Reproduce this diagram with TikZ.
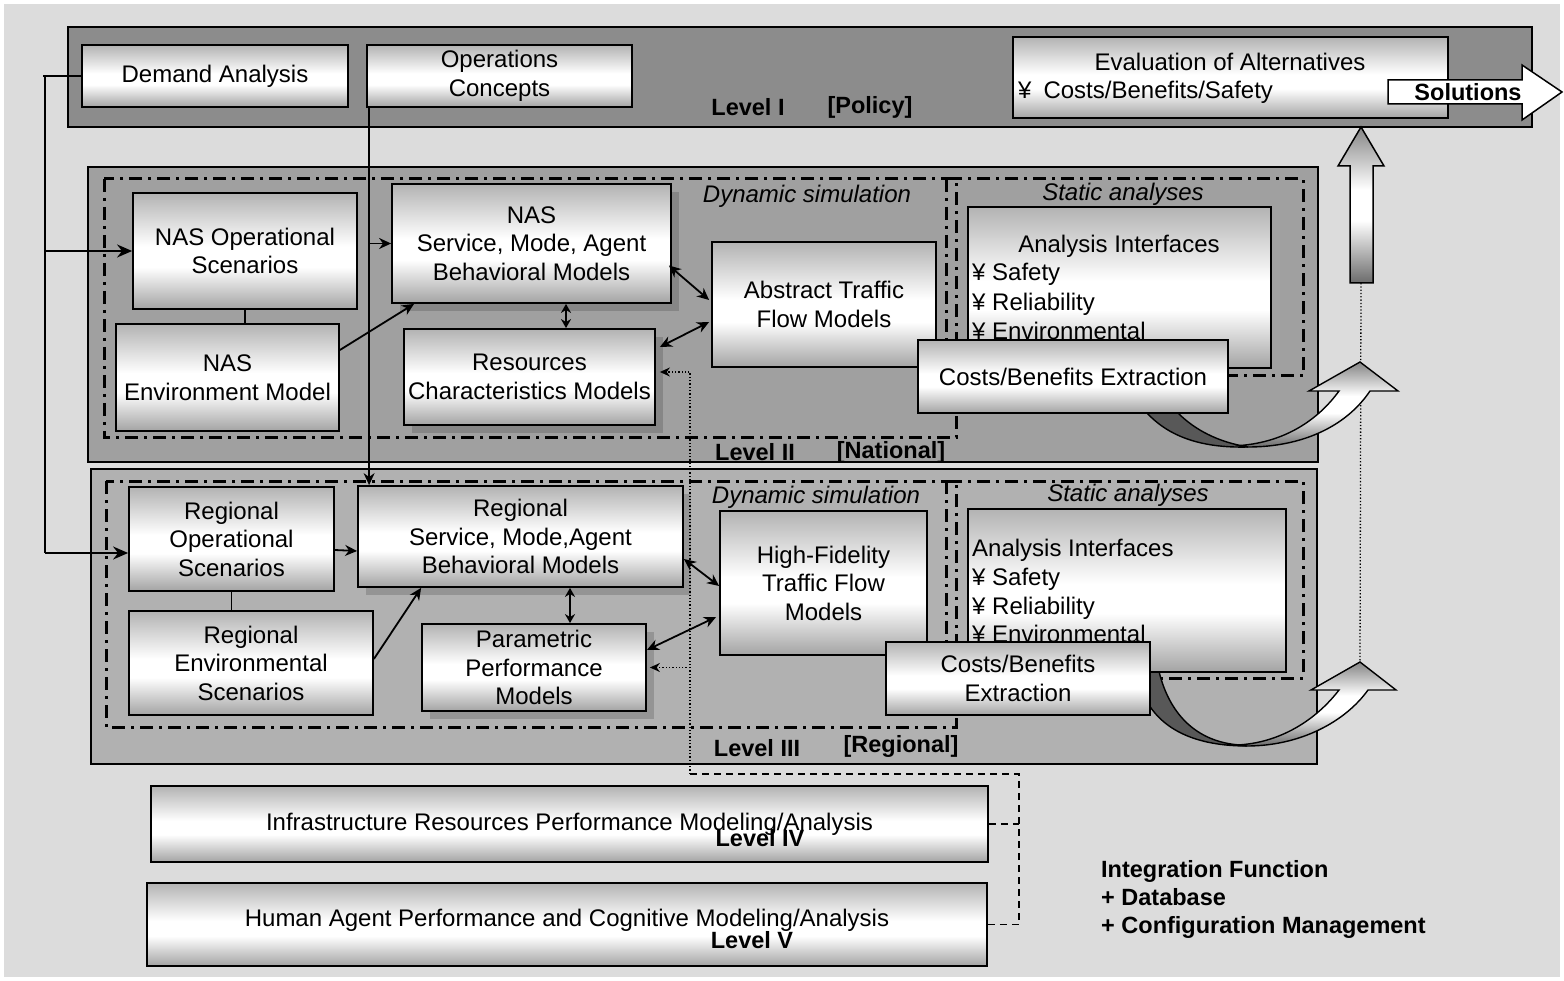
\documentclass[tikz,border=0pt]{standalone}
\usepackage{fontspec}
\setmainfont{Liberation Sans}
\usetikzlibrary{arrows.meta,calc,shadows}

\definecolor{pagegray}{HTML}{DCDCDC}
\definecolor{policygray}{HTML}{8C8C8C}
\definecolor{nationalgray}{HTML}{A0A0A0}
\definecolor{regionalgray}{HTML}{B1B1B1}
\definecolor{folddark}{HTML}{585858}

% box fill: grey top, white band below the middle, grey bottom
% (0bp = bottom; the path spans 25bp..75bp)
\pgfdeclareverticalshading{boxshade}{100bp}{color(0bp)=(black!36); color(25bp)=(black!36); color(43bp)=(white); color(52bp)=(white); color(75bp)=(black!30); color(100bp)=(black!30)}
% block arrows: grey ends, white middle
\pgfdeclareverticalshading{arrowshade}{100bp}{color(0bp)=(black!58); color(25bp)=(black!58); color(45bp)=(white); color(55bp)=(white); color(75bp)=(black!48); color(100bp)=(black!48)}

\newcommand\txtfont{\fontsize{24}{28.5}\selectfont}
\newcommand\lblfont{\fontsize{23.5}{28}\selectfont\bfseries}

\begin{document}
\begin{tikzpicture}[x=1pt,y=-1pt,
  panel/.style={draw=black,line width=1.4pt},
  zone/.style={draw=black,line width=3pt,dash pattern=on 13pt off 6pt on 3pt off 6pt},
  mbox/.style={draw=black,line width=1.8pt,shade,shading=boxshade,inner sep=2pt,align=center,font=\txtfont},
  shadowed/.style={drop shadow={shadow xshift=8pt,shadow yshift=-8pt,fill=black,opacity=0.16}},
  txt/.style={inner sep=0pt,font=\txtfont},
  itxt/.style={inner sep=0pt,font=\txtfont\itshape},
  lbl/.style={inner sep=0pt,font=\lblfont},
  conn/.style={line width=1.8pt},
  tip/.style={conn,-{Stealth[length=12pt,width=11pt]}},
  bigtip/.style={conn,-{Stealth[length=15pt,width=13pt]}},
  both/.style={conn,{Stealth[length=12pt,width=11pt]}-{Stealth[length=12pt,width=11pt]}},
  shortboth/.style={conn,{Stealth[length=9pt,width=10pt]}-{Stealth[length=9pt,width=10pt]}},
  dotline/.style={line width=1.3pt,dash pattern=on 1.3pt off 2pt},
  dashline/.style={line width=1.5pt,dash pattern=on 7pt off 5pt},
  bigarrow/.style={line width=1.4pt,shade,shading=arrowshade},
]

% page
\fill[white] (0,0) rectangle (1564,981);
\useasboundingbox (0,0) rectangle (1564,981);
\fill[pagegray] (4,4) rectangle (1560,977);

% level panels
\path[panel,fill=policygray] (68,27) rectangle (1532,127);
\path[panel,fill=nationalgray] (88,167) rectangle (1318,462);
\path[panel,fill=regionalgray] (91,469) rectangle (1317,764);

% dynamic / static zones
\draw[zone] (104,179) rectangle (956,438);
\draw[zone] (946,179) rectangle (1303,376);
\draw[zone] (106,481) rectangle (956,727);
\draw[zone] (946,481) rectangle (1303,678);

\node[itxt] (dyn2) at (807,196) {Dynamic simulation};
\node[itxt] (sta2) at (1123,194) {Static analyses};
\node[itxt] (dyn3) at (816,497) {Dynamic simulation};
\node[itxt] (sta3) at (1128,495) {Static analyses};

% level captions
\node[lbl] (lvlone) at (748,107) {Level I};
\node[lbl] (lvlonetag) at (870,107) {[Policy]};
\node[lbl] (lvltwo) at (755,452) {Level II};
\node[lbl] (lvltwotag) at (891,452) {[National]};
\node[lbl] (lvlthree) at (757,748) {Level III};
\node[lbl] (lvlthreetag) at (901,746) {[Regional]};

% feedback path towards the evaluation
\coordinate (upbase) at (1361,283);
\coordinate (tipA) at (1360,362);
\coordinate (tipB) at (1360,662);
\draw[dotline] (upbase) -- (tipB);

% upward block arrow into the evaluation box
\draw[bigarrow,line width=1.5pt]
  (upbase) -- (1350,283) -- (1350,166) -- (1338,166) -- (1361,127) -- (1384,166)
  -- (1373,166) -- (1373,283) -- cycle;

% curved arrow out of the national extraction
\draw[line width=1.4pt,fill=folddark] (1147,413) .. controls (1172,440) and (1208,448) .. (1248,447)
  .. controls (1218,442) and (1195,430) .. (1178,413) -- cycle;
\draw[bigarrow] (1248,447) .. controls (1300,447) and (1345,428) .. (1370,391) -- (1398,391) -- (tipA)
  -- (1309,391) -- (1339,391) .. controls (1318,420) and (1285,442) .. (1240,445.5) -- cycle;

% curved arrow out of the regional extraction
\draw[line width=1.4pt,fill=folddark] (1146,662) -- (1157,662) .. controls (1166,712) and (1195,742) .. (1240,745)
  -- (1247,746) .. controls (1205,746) and (1165,735) .. (1146,700) -- cycle;
\draw[bigarrow] (1247,746) .. controls (1300,746) and (1345,722) .. (1368,690) -- (1396,690) -- (tipB)
  -- (1311,690) -- (1339,690) .. controls (1316,720) and (1280,743) .. (1237,745) -- cycle;

% ---- Level I ----
\node[mbox,minimum width=266,minimum height=62] (dem) at (215,76) {Demand Analysis};
\node[mbox,minimum width=265,minimum height=62] (ops) at (499.5,76) {Operations\\Concepts};
\node[mbox,minimum width=435,minimum height=81] (eval) at (1230.5,77.5) {};
\node[txt] (evalhead) at (1230,62) {Evaluation of Alternatives};
\node[txt,anchor=west] (evalitem) at (1018,92) {¥\hspace{12pt}Costs/Benefits/Safety};

\draw[line width=1.5pt,fill=white] (1388,80) -- (1522,80) -- (1522,65) -- (1562,92) -- (1522,120)
  -- (1522,104) -- (1388,104) -- cycle;
\node[lbl] (sol) at (1468,92) {Solutions};

% ---- Level II ----
\node[mbox,minimum width=224,minimum height=116] (nasop) at (245,251) {NAS Operational\\Scenarios};
\node[mbox,minimum width=223,minimum height=107] (nasenv) at (227.5,377.5) {NAS\\Environment Model};
\node[mbox,shadowed,minimum width=279,minimum height=119] (nassvc) at (531.5,243.5) {NAS\\Service, Mode, Agent\\Behavioral Models};
\node[mbox,shadowed,minimum width=251,minimum height=96] (nasres) at (529.5,377) {Resources\\Characteristics Models};
\node[mbox,minimum width=224,minimum height=125] (abstract) at (824,304.5) {Abstract Traffic\\Flow Models};
\node[mbox,minimum width=303,minimum height=161] (ana2) at (1119.5,287.5) {};
\node[txt] (ana2head) at (1119,246) {Analysis Interfaces};
\node[txt,anchor=base west] (ana2a) at (972,281) {¥ Safety};
\node[txt,anchor=base west] (ana2b) at (972,311) {¥ Reliability};
\node[txt,anchor=base west] (ana2c) at (972,340) {¥ Environmental};
\node[mbox,minimum width=310,minimum height=73] (cb2) at (1073,376.5) {Costs/Benefits Extraction};

% ---- Level III ----
\node[mbox,minimum width=205,minimum height=104] (regop) at (231.5,539) {Regional\\Operational\\Scenarios};
\node[mbox,minimum width=244,minimum height=104] (regenv) at (251,663) {Regional\\Environmental\\Scenarios};
\node[mbox,shadowed,minimum width=325,minimum height=101] (regsvc) at (520.5,536.5) {Regional\\Service, Mode,Agent\\Behavioral Models};
\node[mbox,shadowed,minimum width=224,minimum height=87] (param) at (534,667.5) {Parametric\\Performance\\Models};
\node[mbox,minimum width=207,minimum height=144] (hifi) at (823.5,583) {High-Fidelity\\Traffic Flow\\Models};
\node[mbox,minimum width=318,minimum height=163] (ana3) at (1127,590.5) {};
\node[txt,anchor=base west] (ana3head) at (972,556) {Analysis Interfaces};
\node[txt,anchor=base west] (ana3a) at (972,585) {¥ Safety};
\node[txt,anchor=base west] (ana3b) at (972,614) {¥ Reliability};
\node[txt,anchor=base west] (ana3c) at (972,642) {¥ Environmental};
\node[mbox,minimum width=264,minimum height=73] (cb3) at (1018,678.5) {Costs/Benefits\\Extraction};

% ---- Levels IV and V ----
\node[mbox,minimum width=837,minimum height=76] (infra) at (569.5,824) {Infrastructure Resources Performance Modeling/Analysis};
\node[lbl] (lvlfour) at (760,838) {Level IV};
\node[mbox,minimum width=840,minimum height=83,text depth=14pt] (human) at (567,924.5) {Human Agent Performance and Cognitive Modeling/Analysis};
\node[lbl] (lvlfive) at (752,940) {Level V};

% integration note
\node[lbl,anchor=base west] (integ) at (1101,877.5) {Integration Function};
\node[lbl,anchor=base west] (integdb) at (1101,905.5) {+ Database};
\node[lbl,anchor=base west] (integcm) at (1101,933.5) {+ Configuration Management};

% ---- connectors ----
% demand analysis feeds both scenario boxes
\coordinate (lc) at ($(dem.west)+(-36,0)$);
\coordinate (regin) at ($(regop.west)+(0,14)$);
\draw[conn] (dem.west) -- ($(lc)+(-2,0)$);
\draw[conn] (lc) -- (lc |- regin);
\draw[bigtip] (lc |- nasop.west) -- (nasop.west);
\draw[bigtip] (lc |- regin) -- (regin);

% operations concepts feed both behavioral models
\coordinate (od) at ($(ops.south west)+(3,0)$);
\draw[tip,line width=1.5pt] (od) -- (od |- regsvc.north);
\draw[tip] (od |- nassvc.west) -- (nassvc.west);

% national level
\draw[conn] (nasop.south) -- (nasop.south |- nasenv.north);
\draw[tip] ($(nasenv.east)+(0,-27.5)$) -- ($(nassvc.south west)+(23,0)$);
\draw[shortboth] ($(nassvc.south)+(34.5,0)$) -- ($(nasres.north)+(36.5,0)$);
\draw[both] ($(nassvc.east)+(-3,22)$) -- ($(abstract.west)+(-2,-4.5)$);
\draw[both] ($(nasres.east)+(4,-30)$) -- ($(abstract.west)+(-2,17.5)$);

% regional level
\draw[conn] (regop.south) -- (regop.south |- regenv.north);
\draw[tip] ($(regop.east)+(0,11)$) -- ($(regsvc.west)+(0,14.5)$);
\draw[tip] ($(regenv.east)+(0,-4)$) -- ($(regsvc.south west)+(64,0)$);
\draw[shortboth] ($(regsvc.south)+(49.5,0)$) -- ($(param.north)+(36,0)$);
\draw[both] ($(regsvc.east)+(0,22.5)$) -- ($(hifi.west)+(0,3)$);
\draw[both] ($(param.east)+(0,-17.5)$) -- ($(hifi.west)+(-3,34)$);

% lower-level results feeding the resource models
\coordinate (tap) at (690,774);
\coordinate (bus) at (1019,774);
\draw[dotline,-{Stealth[length=10pt,width=9pt]}] (tap) |- ($(nasres.east)+(4,-5)$);
\draw[dotline,-{Stealth[length=10pt,width=9pt]}] (tap |- param.east) -- ($(param.east)+(3,0)$);
\draw[dashline] (tap) -- (bus) -- (bus |- human.east);
\draw[dashline] (infra.east) -- (bus |- infra.east);
\draw[dashline] (human.east) -- (bus |- human.east);

\end{tikzpicture}
\end{document}
